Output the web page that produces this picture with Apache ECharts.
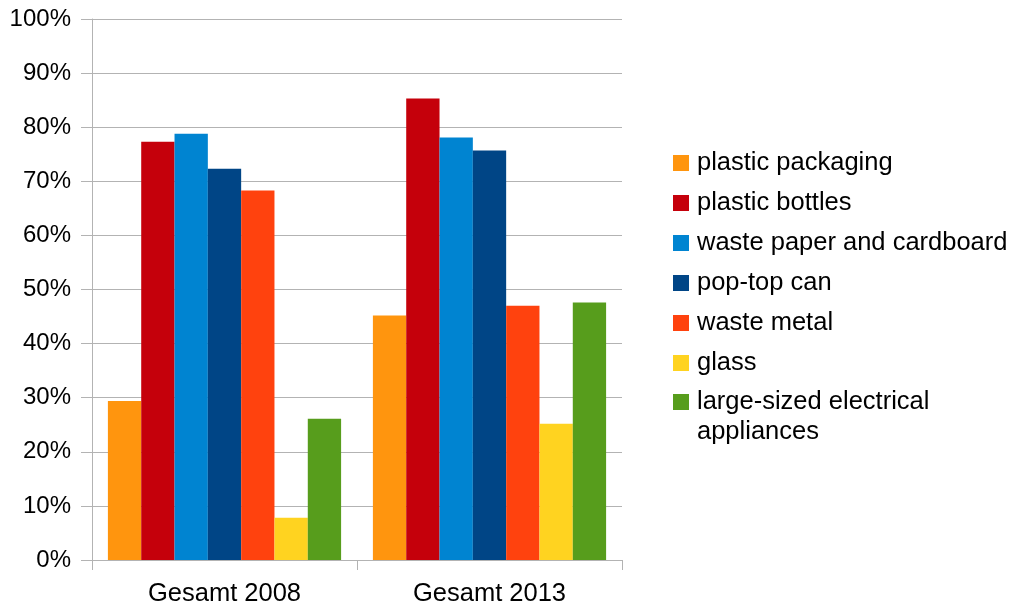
<!DOCTYPE html>
<html>
<head>
<meta charset="utf-8">
<style>
  html, body { margin: 0; padding: 0; background: #ffffff; }
  #chart { width: 1010px; height: 609px; }
</style>
<script src="https://cdn.jsdelivr.net/npm/echarts@6/dist/echarts.min.js"></script>
</head>
<body>
<div id="chart"></div>
<script>
// Categories on the x axis
const categories = ['Gesamt 2008', 'Gesamt 2013'];

// Recycling rates per material (percent)
const plasticPackaging = [29.4, 45.2];
const plasticBottles = [77.3, 85.3];
const wastePaper = [78.8, 78.1];
const popTopCan = [72.3, 75.7];
const wasteMetal = [68.3, 47.0];
const glass = [7.8, 25.2];
const largeAppliances = [26.1, 47.6];

const seriesNames = [
  'plastic packaging',
  'plastic bottles',
  'waste paper and cardboard',
  'pop-top can',
  'waste metal',
  'glass',
  'large-sized electrical appliances'
];
const seriesValues = [plasticPackaging, plasticBottles, wastePaper, popTopCan, wasteMetal, glass, largeAppliances];
const seriesColors = ['#ff950e', '#c5000b', '#0084d1', '#004586', '#ff420e', '#ffd320', '#579d1c'];

const FONT = '"Liberation Sans", Arial, sans-serif';
const GRID = '#b3b3b3';

const chart = echarts.init(document.getElementById('chart'), null, { renderer: 'canvas' });

const legendText = {
  fontFamily: FONT,
  fontSize: 25.5,
  color: '#000000',
  lineHeight: 30,
  padding: [0, 0, 0, 3]
};

chart.setOption({
  animation: false,
  backgroundColor: '#ffffff',
  grid: { left: 92, right: 388, top: 19, bottom: 49, containLabel: false },
  legend: [
    {
      orient: 'vertical',
      left: 673,
      top: 148,
      padding: 0,
      itemWidth: 16,
      itemHeight: 16,
      itemGap: 10,
      icon: 'rect',
      data: seriesNames.slice(0, 6),
      textStyle: legendText
    },
    {
      // the leading empty line keeps the first text line level with the swatch
      orient: 'vertical',
      left: 673,
      top: 357,
      padding: 0,
      itemWidth: 16,
      itemHeight: 16,
      icon: 'rect',
      data: [seriesNames[6]],
      formatter: function () { return '\nlarge-sized electrical\nappliances'; },
      textStyle: legendText
    }
  ],
  xAxis: {
    type: 'category',
    data: categories,
    boundaryGap: true,
    axisLine: { show: true, lineStyle: { color: GRID, width: 1 } },
    axisTick: { show: true, length: 10, alignWithLabel: false, lineStyle: { color: GRID } },
    axisLabel: { fontFamily: FONT, fontSize: 25.5, color: '#000000', margin: 21 },
    splitLine: { show: false }
  },
  yAxis: {
    type: 'value',
    min: 0,
    max: 100,
    interval: 10,
    axisLine: { show: true, lineStyle: { color: GRID, width: 1 } },
    axisTick: { show: true, length: 11, lineStyle: { color: GRID } },
    axisLabel: {
      fontFamily: FONT,
      fontSize: 24,
      color: '#000000',
      margin: 21,
      formatter: '{value}%'
    },
    splitLine: { show: true, lineStyle: { color: GRID, width: 1 } }
  },
  series: seriesNames.map(function (name, i) {
    return {
      name: name,
      type: 'bar',
      data: seriesValues[i],
      barGap: '0%',
      barCategoryGap: '12%',
      itemStyle: { color: seriesColors[i] },
      emphasis: { disabled: true }
    };
  })
});
</script>
</body>
</html>
